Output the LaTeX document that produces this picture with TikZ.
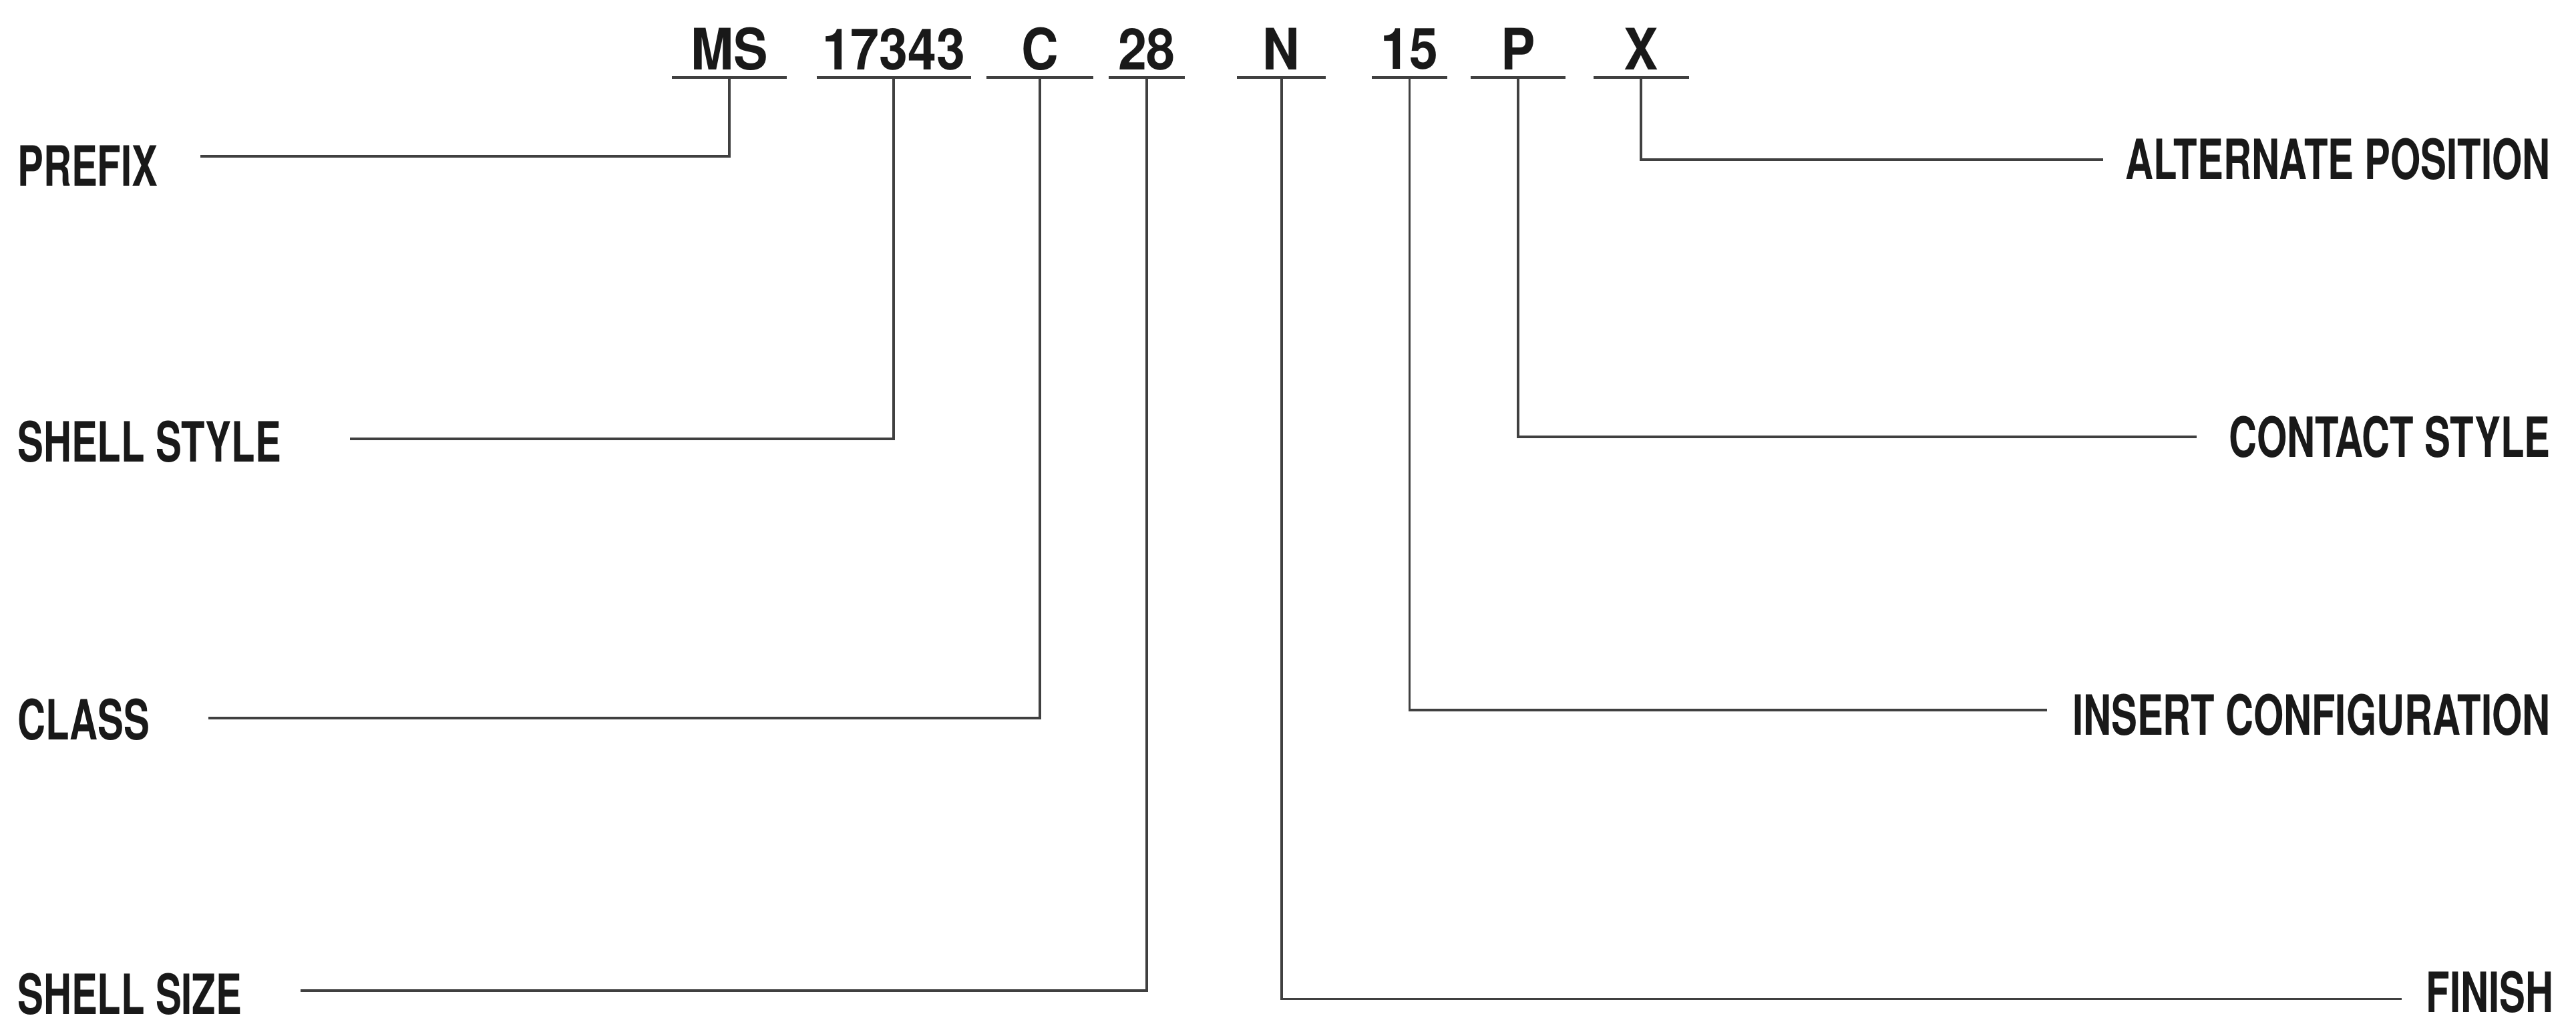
\documentclass[tikz,border=0pt]{standalone}
\usepackage{fontspec}
\setmainfont{TeX Gyre Heros}[FakeStretch=0.70]
\newfontfamily\codefont{TeX Gyre Heros}[FakeStretch=0.9]
\usetikzlibrary{positioning}

\begin{document}
\begin{tikzpicture}[x=0.01cm,y=-0.01cm,
  lbl/.style={font=\fontsize{9.6}{10}\selectfont\bfseries,text=black!90,inner sep=0pt},
  code/.style={font=\codefont\fontsize{9.9}{10}\selectfont\bfseries,text=black!90,inner sep=0pt},
  lead/.style={draw=black!75,line width=0.45pt}]
\useasboundingbox (0,0) rectangle (1568,622);
% part number with underlines
\foreach \nm/\txt/\x/\w in {ms/MS/444/70,sty/17343/544/94,cls/C/633/65,siz/28/698/46,
                             fin/N/780/54,ins/15/858/46,con/P/924/58,alt/X/999/58}{
  \node[code] (\nm) at (\x,30) {\txt};
  \draw[lead] (\x-\w/2,47) -- (\x+\w/2,47);
  \coordinate (\nm-u) at (\x,47);
}
% labels, left
\node[lbl,anchor=west] (prefix) at (10,101) {PREFIX};
\node[lbl,anchor=west] (shellstyle) at (10,269) {SHELL STYLE};
\node[lbl,anchor=west] (class) at (10,438) {CLASS};
\node[lbl,anchor=west] (shellsize) at (10,605) {SHELL SIZE};
% labels, right
\node[lbl,anchor=east] (altpos) at (1553,97) {ALTERNATE POSITION};
\node[lbl,anchor=east] (contact) at (1553,266) {CONTACT STYLE};
\node[lbl,anchor=east] (insert) at (1553,435) {INSERT CONFIGURATION};
\node[lbl,anchor=east] (finish) at (1555,604) {FINISH};
% leader ends
\coordinate (prefix-l) at (122,95);
\coordinate (shellstyle-l) at (213,267);
\coordinate (class-l) at (127,437);
\coordinate (shellsize-l) at (183,603);
\coordinate (altpos-l) at (1280,97);
\coordinate (contact-l) at (1337,266);
\coordinate (insert-l) at (1246,432);
\coordinate (finish-l) at (1462,608);
% leaders
\draw[lead] (ms-u) |- (prefix-l);
\draw[lead] (sty-u) |- (shellstyle-l);
\draw[lead] (cls-u) |- (class-l);
\draw[lead] (siz-u) |- (shellsize-l);
\draw[lead] (fin-u) |- (finish-l);
\draw[lead] (ins-u) |- (insert-l);
\draw[lead] (con-u) |- (contact-l);
\draw[lead] (alt-u) |- (altpos-l);
\end{tikzpicture}
\end{document}
